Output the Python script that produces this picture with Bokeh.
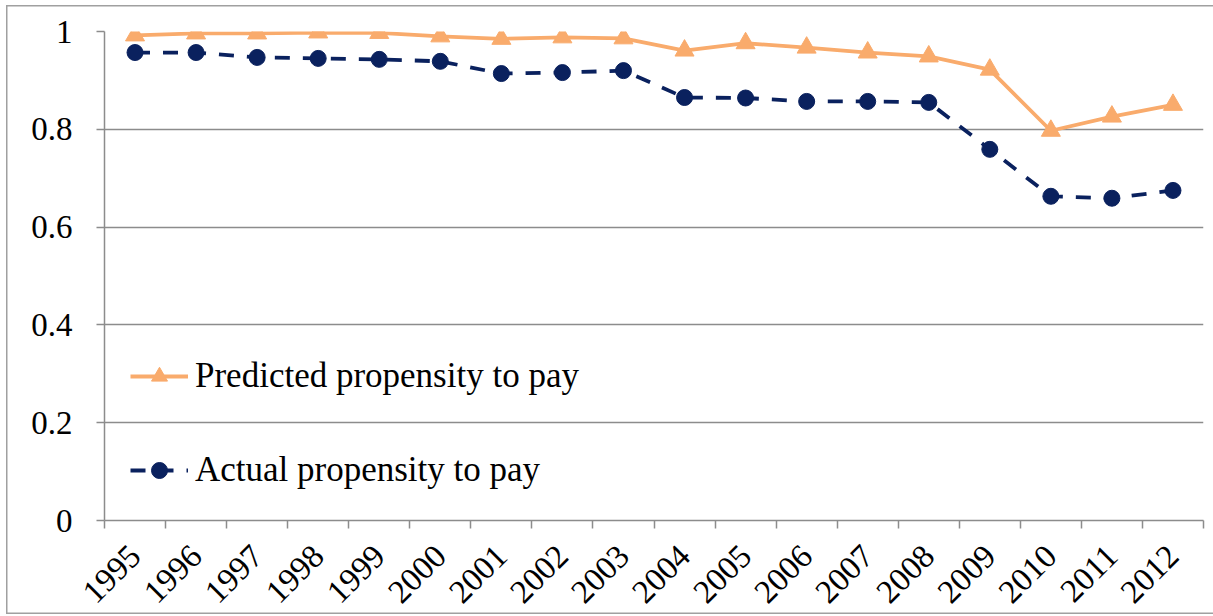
from bokeh.plotting import figure
from bokeh.models import FixedTicker, Range1d, Legend, LegendItem
from bokeh.embed import file_html
from bokeh.resources import INLINE

# Propensity to pay, 1995-2012
years = [str(y) for y in range(1995, 2013)]
predicted = [0.992, 0.996, 0.996, 0.998, 0.997, 0.990, 0.985, 0.988, 0.986, 0.961,
             0.976, 0.967, 0.957, 0.949, 0.922, 0.797, 0.826, 0.850]
actual = [0.957, 0.957, 0.947, 0.945, 0.943, 0.939, 0.914, 0.916, 0.920, 0.865,
          0.864, 0.857, 0.857, 0.855, 0.759, 0.663, 0.659, 0.675]
y_ticks = [0, 0.2, 0.4, 0.6, 0.8, 1]
y_tick_labels = ["0", "0.2", "0.4", "0.6", "0.8", "1"]

ORANGE = "#F9AB6C"
NAVY = "#0A215E"
GRAY = "#8C8C8C"
FONT = "Liberation Serif"

# categories sit in the middle of each slot; tick marks fall between slots
x = [i + 0.5 for i in range(len(years))]

p = figure(width=1213, height=616, output_backend="svg", toolbar_location=None,
           x_range=Range1d(0, len(years)), y_range=Range1d(0, 1),
           min_border_left=104, min_border_right=10, min_border_top=31,
           min_border_bottom=96)
p.outline_line_color = None
p.background_fill_color = "white"
p.border_fill_color = None

# frame around the chart area (top, left and bottom edges)
p.styles = {
    "background-color": "white",
    "box-shadow": ("inset 6px 5px 0 0 white, inset 0 -2px 0 0 white, "
                   "inset 7.5px 6.5px 0 0 #A0A0A0, inset 0 -3.5px 0 0 #A0A0A0"),
}

r_pred_line = p.line(x, predicted, line_color=ORANGE, line_width=3.8)
r_pred_pts = p.scatter(x, predicted, marker="triangle", size=19,
                       fill_color=ORANGE, line_color=ORANGE)
r_act_line = p.line(x, actual, line_color=NAVY, line_width=3.8, line_dash="15 13")
r_act_pts = p.scatter(x, actual, marker="circle", size=16,
                      fill_color=NAVY, line_color=NAVY)

# x axis
p.xaxis.ticker = FixedTicker(ticks=x, minor_ticks=list(range(len(years) + 1)))
p.xaxis.major_label_overrides = {xi: yr for xi, yr in zip(x, years)}
p.xaxis.major_label_orientation = 0.785
p.xaxis.major_tick_out = 0
p.xaxis.major_tick_in = 0
p.xaxis.minor_tick_out = 8
p.xaxis.minor_tick_in = 0
p.xaxis.minor_tick_line_color = GRAY
p.xaxis.minor_tick_line_width = 1.5
p.xaxis.axis_line_color = GRAY
p.xaxis.axis_line_width = 1.5
p.xaxis.major_label_text_font = FONT
p.xaxis.major_label_text_font_size = "33px"
p.xaxis.major_label_text_color = "black"
p.xaxis.major_label_standoff = 22
p.xgrid.visible = False

# y axis
p.yaxis.ticker = FixedTicker(ticks=y_ticks, minor_ticks=[])
p.yaxis.major_label_overrides = dict(zip(y_ticks, y_tick_labels))
p.yaxis.major_tick_out = 8
p.yaxis.major_tick_in = 0
p.yaxis.major_tick_line_color = GRAY
p.yaxis.major_tick_line_width = 1.5
p.yaxis.axis_line_color = GRAY
p.yaxis.axis_line_width = 1.5
p.yaxis.major_label_text_font = FONT
p.yaxis.major_label_text_font_size = "33px"
p.yaxis.major_label_text_color = "black"
p.yaxis.major_label_standoff = 24
p.ygrid.grid_line_color = GRAY
p.ygrid.grid_line_width = 1.5

legend = Legend(items=[
    LegendItem(label="Predicted propensity to pay", renderers=[r_pred_line, r_pred_pts]),
    LegendItem(label="Actual propensity to pay", renderers=[r_act_line, r_act_pts]),
], location=(26, 30))
legend.label_text_font = FONT
legend.label_text_font_size = "35px"
legend.label_text_color = "black"
legend.glyph_width = 58
legend.glyph_height = 40
legend.label_height = 40
legend.label_standoff = 7
legend.spacing = 54
legend.padding = 0
legend.margin = 0
legend.border_line_color = None
legend.background_fill_alpha = 0
p.add_layout(legend)

open("out.html", "w").write(file_html(p, INLINE))
